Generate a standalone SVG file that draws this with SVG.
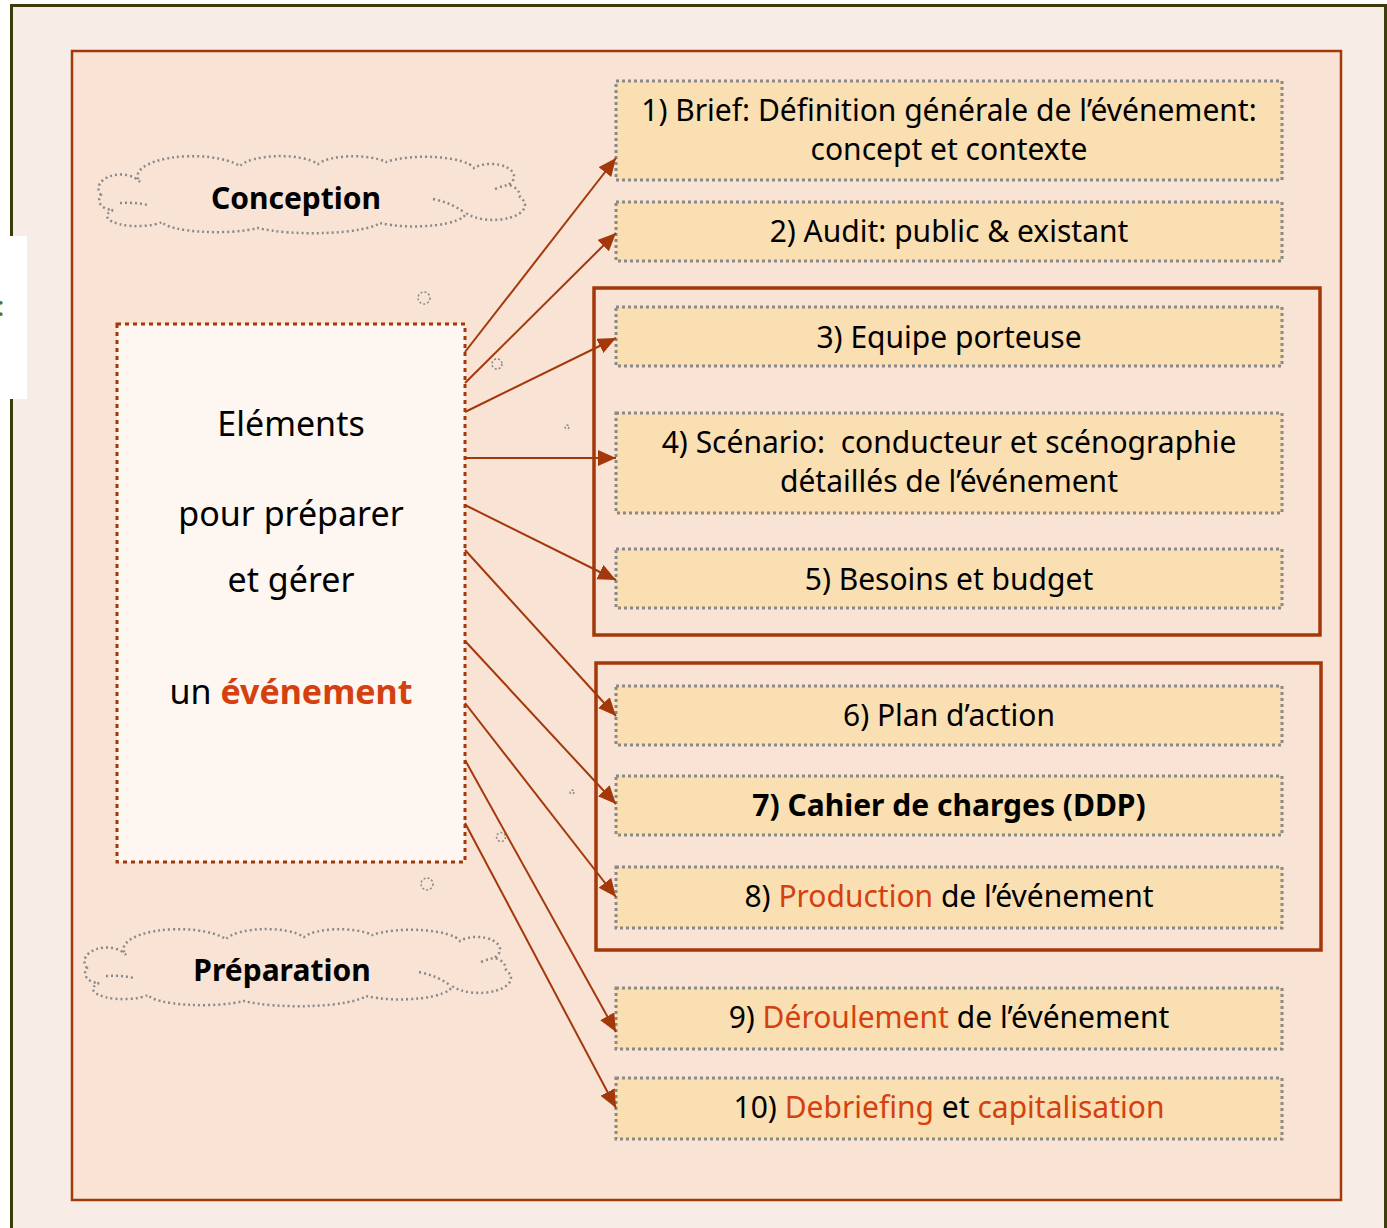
<svg xmlns="http://www.w3.org/2000/svg" width="1387" height="1228" viewBox="0 0 1387 1228">
<style>
.box{fill:#f9dfb1;stroke:#8a8a8a;stroke-width:3;stroke-dasharray:3 3}
.grp{fill:none;stroke:#a3380a;stroke-width:3.5}
.t{font-family:"Noto Sans","Open Sans",sans-serif;font-size:30px;fill:#000;text-anchor:middle}
.m{font-size:34px}
.r{fill:#d4400f}
.b{font-weight:bold}
.conn line{stroke:#a3380a;stroke-width:2;marker-end:url(#ah)}
.cloud{fill:none;stroke:#8a8a8a;stroke-width:2.5;stroke-dasharray:2 3}
.bub{fill:none;stroke:#8a8a8a;stroke-width:1.5;stroke-dasharray:2 2}
</style>
<defs>
<marker id="ah" markerUnits="userSpaceOnUse" markerWidth="20" markerHeight="18" refX="18" refY="8" orient="auto">
<path d="M0,0 L18,8 L0,16 Z" fill="#a3380a"/>
</marker>
<path id="cloudShape" d="M101,195 A22,14 0 0 1 140,182 A55,20 0 0 1 240,166 A42,14 0 0 1 318,164 A38,12 0 0 1 386,162 A50,14 0 0 1 474,168 A22,12 0 0 1 508,185 A14,12 0 0 1 520,197 A30,14 0 0 1 466,213 A52,14 0 0 1 380,223 A70,14 0 0 1 258,228 A55,12 0 0 1 162,222 A30,10 0 0 1 113,210 A14,10 0 0 1 101,195 Z M120,203 Q134,202 148,205 M433,199 Q452,203 465,213 M495,189 Q502,186 508,185"/>
</defs>
<rect x="11.5" y="5.5" width="1374" height="1240" fill="#f8ece6" stroke="#3d3d0c" stroke-width="3"/>
<rect x="0" y="236" width="27" height="163" fill="#ffffff"/>
<text x="-3" y="316" style="font-family:'Noto Sans',sans-serif;font-size:28px;fill:#4a7a1a">:</text>
<rect x="72" y="51" width="1269" height="1149" fill="#f9e3d5" stroke="#a3380a" stroke-width="2.5"/>

<g id="grp1"><rect class="grp" x="594" y="288" width="726" height="347"/></g>
<g id="grp2"><rect class="grp" x="596" y="663" width="725" height="287"/></g>

<g id="cloud-conception">
<use href="#cloudShape" class="cloud"/>
<text class="t b" x="296" y="209">Conception</text>
</g>
<g id="cloud-preparation">
<use href="#cloudShape" class="cloud" transform="translate(-14,773)"/>
<text class="t b" x="282" y="981">Préparation</text>
</g>

<g id="bubbles">
<circle class="bub" cx="424" cy="298" r="6"/>
<circle class="bub" cx="497" cy="364" r="5"/>
<circle class="bub" cx="567" cy="427" r="2"/>
<circle class="bub" cx="572" cy="792" r="2"/>
<circle class="bub" cx="501" cy="837" r="4.5"/>
<circle class="bub" cx="427" cy="884" r="6"/>
</g>

<g id="main">
<rect x="117" y="324" width="348" height="538" fill="#fdf6f1" stroke="#a3380a" stroke-width="3" stroke-dasharray="4 4"/>
<text class="t m" x="291" y="436">Eléments</text>
<text class="t m" x="291" y="526">pour préparer</text>
<text class="t m" x="291" y="592">et gérer</text>
<text class="t m" x="291" y="704">un <tspan class="r b">événement</tspan></text>
</g>

<g id="n1"><rect class="box" x="616" y="81" width="666" height="99"/>
<text class="t" x="949" y="121">1) Brief: Définition générale de l’événement:</text>
<text class="t" x="949" y="160">concept et contexte</text></g>
<g id="n2"><rect class="box" x="616" y="202" width="666" height="59"/>
<text class="t" x="949" y="242">2) Audit: public &amp; existant</text></g>
<g id="n3"><rect class="box" x="616" y="307" width="666" height="59"/>
<text class="t" x="949" y="348">3) Equipe porteuse</text></g>
<g id="n4"><rect class="box" x="616" y="413" width="666" height="100"/>
<text class="t" x="949" y="453">4) Scénario:&#160; conducteur et scénographie</text>
<text class="t" x="949" y="492">détaillés de l’événement</text></g>
<g id="n5"><rect class="box" x="616" y="549" width="666" height="59"/>
<text class="t" x="949" y="590">5) Besoins et budget</text></g>
<g id="n6"><rect class="box" x="616" y="686" width="666" height="59"/>
<text class="t" x="949" y="726">6) Plan d’action</text></g>
<g id="n7"><rect class="box" x="616" y="776" width="666" height="59"/>
<text class="t b" x="949" y="816">7) Cahier de charges (DDP)</text></g>
<g id="n8"><rect class="box" x="616" y="867" width="666" height="61"/>
<text class="t" x="949" y="907">8) <tspan class="r">Production</tspan> de l’événement</text></g>
<g id="n9"><rect class="box" x="616" y="988" width="666" height="61"/>
<text class="t" x="949" y="1028">9) <tspan class="r">Déroulement</tspan> de l’événement</text></g>
<g id="n10"><rect class="box" x="616" y="1078" width="666" height="61"/>
<text class="t" x="949" y="1118">10) <tspan class="r">Debriefing</tspan> et <tspan class="r">capitalisation</tspan></text></g>

<g id="connectors" class="conn">
<line x1="465" y1="352" x2="616" y2="158"/>
<line x1="465" y1="383" x2="616" y2="233"/>
<line x1="465" y1="412" x2="616" y2="338"/>
<line x1="465" y1="458" x2="616" y2="458"/>
<line x1="465" y1="505" x2="616" y2="580"/>
<line x1="465" y1="550" x2="616" y2="716"/>
<line x1="465" y1="641" x2="616" y2="804"/>
<line x1="465" y1="703" x2="616" y2="897"/>
<line x1="465" y1="760" x2="616" y2="1032"/>
<line x1="465" y1="823" x2="616" y2="1108"/>
</g>
</svg>
